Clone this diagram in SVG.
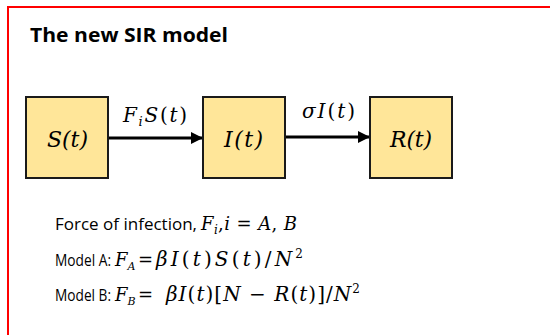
<svg xmlns="http://www.w3.org/2000/svg" width="550" height="335" viewBox="0 0 550 335">
<defs>
<style>
.frame{fill:#ffffff;stroke:#ff0000;stroke-width:2}
.box{fill:#ffe699;stroke:#1a1a1a;stroke-width:2}
.conn{stroke:#000;stroke-width:3;fill:none}
.math{font-family:"DejaVu Serif","Liberation Serif",serif;font-style:italic;fill:#000}
.up{font-family:"DejaVu Serif","Liberation Serif",serif;font-style:normal;fill:#000}
.txt{font-family:"Open Sans","Liberation Sans",sans-serif;font-size:17px;fill:#000}
.title{font-family:"Open Sans","Liberation Sans",sans-serif;font-size:19px;font-weight:bold;fill:#000}
</style>
<marker id="arr" viewBox="0 0 10 10" refX="10" refY="5" markerWidth="4" markerHeight="4" markerUnits="strokeWidth" orient="auto">
<path d="M0,0 L10,5 L0,10 z" fill="#000"/>
</marker>
</defs>
<rect width="550" height="335" fill="#fff"/>
<rect class="frame" x="8" y="7" width="560" height="340"/>
<text class="title" x="30" y="42" textLength="198" lengthAdjust="spacingAndGlyphs">The new SIR model</text>
<g id="connectors">
<line class="conn" x1="108" y1="138" x2="203" y2="138" marker-end="url(#arr)"/>
<line class="conn" x1="285" y1="137" x2="370" y2="137" marker-end="url(#arr)"/>
<text class="math" x="123" y="122" font-size="20" textLength="64" lengthAdjust="spacing">F<tspan font-size="13" dy="4">i</tspan><tspan dy="-4">S</tspan><tspan class="up">(</tspan>t<tspan class="up">)</tspan></text>
<text class="math" x="302" y="118" font-size="20" textLength="53" lengthAdjust="spacing">σI<tspan class="up">(</tspan>t<tspan class="up">)</tspan></text>
</g>
<g id="node-S">
<rect class="box" x="26" y="97" width="82" height="81"/>
<text class="math" x="47" y="147" font-size="22" textLength="41" lengthAdjust="spacing">S(t)</text>
</g>
<g id="node-I">
<rect class="box" x="203" y="97" width="82" height="81"/>
<text class="math" x="224" y="147" font-size="22" textLength="39" lengthAdjust="spacing">I(t)</text>
</g>
<g id="node-R">
<rect class="box" x="370" y="97" width="82" height="81"/>
<text class="math" x="390" y="147" font-size="22" textLength="42" lengthAdjust="spacing">R(t)</text>
</g>
<g id="formulas">
<text class="txt" x="55" y="230" textLength="142" lengthAdjust="spacingAndGlyphs">Force of infection,</text>
<text class="math" x="201" y="230" font-size="18" textLength="96" lengthAdjust="spacing">F<tspan font-size="12" dy="4">i</tspan><tspan class="up" dy="-4">,</tspan>i <tspan class="up">=</tspan> A<tspan class="up">,</tspan> B</text>
<text class="txt" x="55" y="266" textLength="56" lengthAdjust="spacingAndGlyphs">Model A:</text>
<text class="math" x="115" y="266" font-size="18">F<tspan font-size="11" dy="4">A</tspan></text>
<text class="up" x="138" y="266" font-size="18">=</text>
<text class="math" x="156" y="266" font-size="20" textLength="147" lengthAdjust="spacing">βI<tspan class="up">(</tspan>t<tspan class="up">)</tspan>S<tspan class="up">(</tspan>t<tspan class="up">)/</tspan>N<tspan class="up" font-size="12" dy="-8">2</tspan></text>
<text class="txt" x="55" y="301" textLength="56" lengthAdjust="spacingAndGlyphs">Model B:</text>
<text class="math" x="115" y="301" font-size="18">F<tspan font-size="11" dy="4">B</tspan></text>
<text class="up" x="138" y="301" font-size="18">=</text>
<text class="math" x="166" y="301" font-size="20" textLength="194" lengthAdjust="spacing">βI<tspan class="up">(</tspan>t<tspan class="up">)[</tspan>N <tspan class="up">−</tspan> R<tspan class="up">(</tspan>t<tspan class="up">)]/</tspan>N<tspan class="up" font-size="12" dy="-8">2</tspan></text>
</g>
</svg>
